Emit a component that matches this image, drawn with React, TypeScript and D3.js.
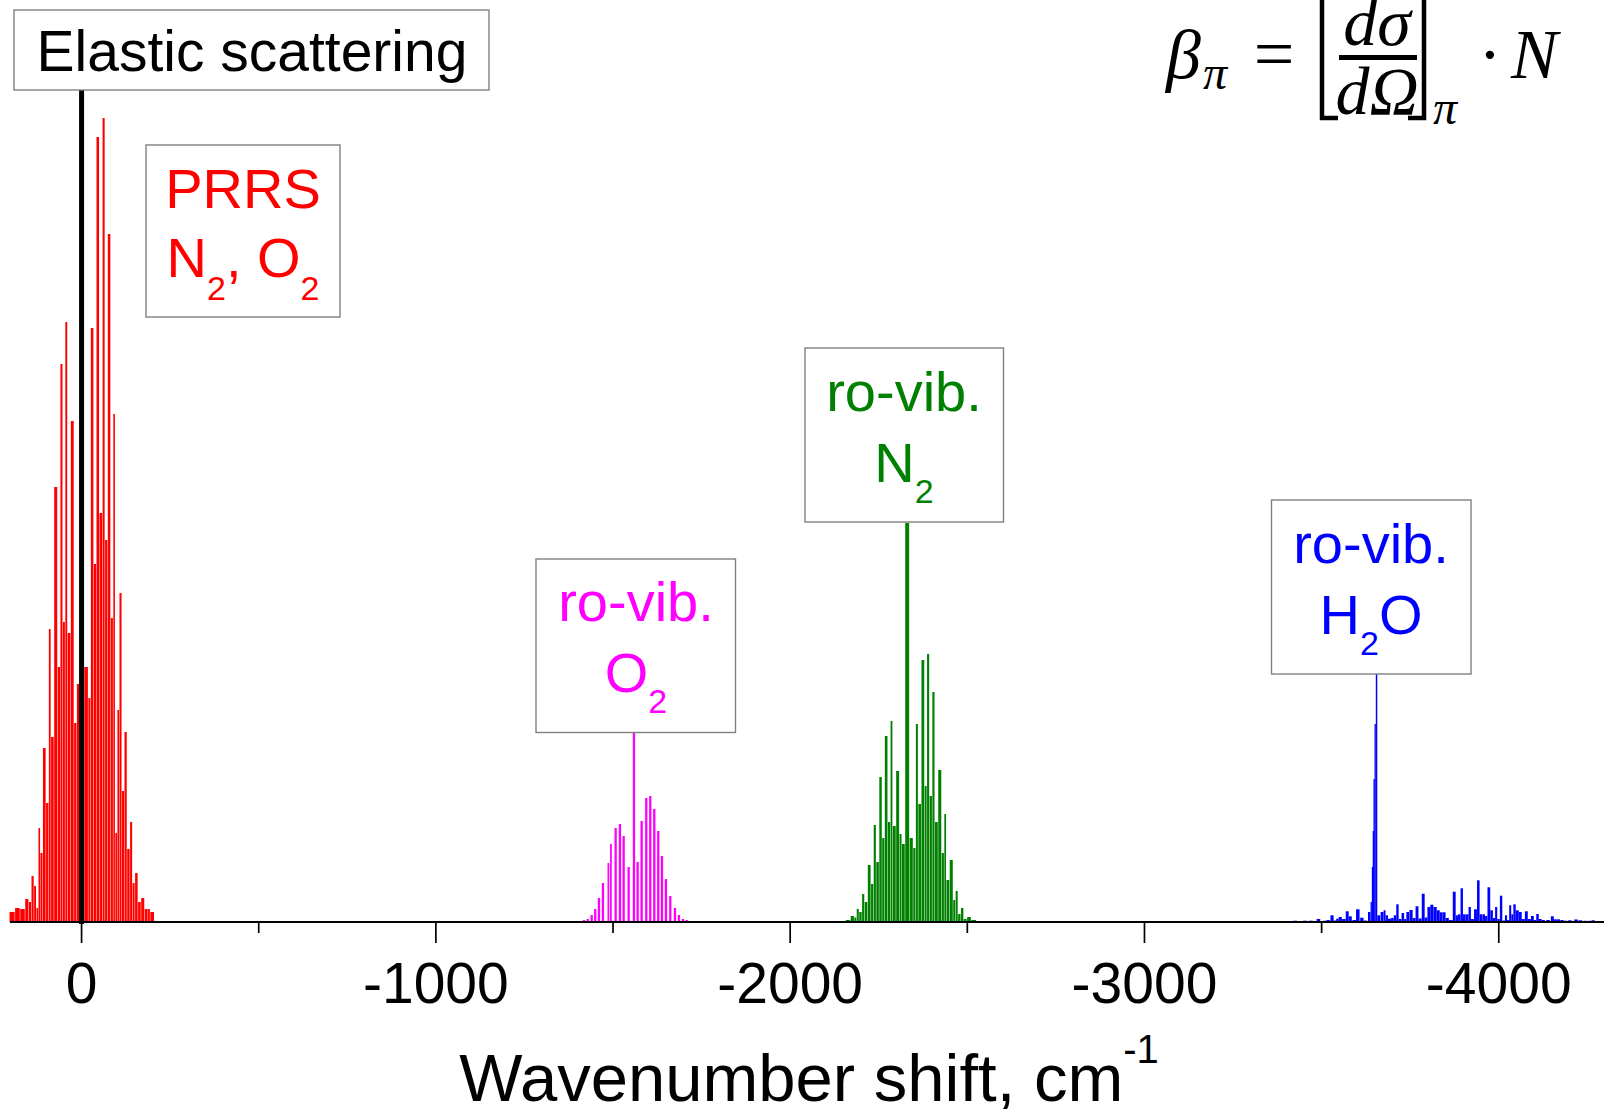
import React from 'react';
import * as d3 from 'd3';

// ---------- data (Raman shift in cm^-1, intensity in arb. units) ----------
const elasticShift = [0];
const elasticValue = [832];

const prrsShift = [195.3, 181.2, 166.3, 153.0, 145.9, 138.0, 131.0, 124.8, 119.1, 114.3, 105.0, 96.5, 89.5, 83.8, 72.0, 64.1, 56.5, 50.0, 42.9, 36.7, 25.1, 18.1, 9.6, -15.5, -21.5, -29.6, -38.4, -44.6, -55.3, -62.1, -69.4, -77.6, -86.1, -92.0, -97.7, -103.3, -109.5, -117.4, -123.6, -132.7, -140.0, -146.8, -154.1, -163.7, -171.6, -183.5, -190.5, -196.5];
const prrsValue = [10, 14, 13, 23, 20, 46, 36, 14, 94, 69, 174, 119, 293, 185, 435, 255, 558, 300, 600, 289, 501, 199, 238, 255, 224, 594, 358, 785, 409, 804, 382, 688, 304, 508, 89, 212, 329, 131, 190, 73, 100, 39, 49, 20, 24, 13, 13, 10];

const o2Shift = [-1404.7, -1417.9, -1428.4, -1439.7, -1449.8, -1460.3, -1471.6, -1487.7, -1493.3, -1507.4, -1519.6, -1530.0, -1544.1, -1559.1, -1569.5, -1580.8, -1593.8, -1605.1, -1616.4, -1627.7, -1638.1, -1649.4, -1661.6, -1674.8, -1686.1, -1697.4, -1707.9, -1718.0];
const o2Value = [1, 2, 3, 7, 13, 24, 39, 59, 78, 94, 98, 86, 55, 189, 60, 101, 124, 126, 113, 91, 66, 43, 26, 14, 7, 3, 2, 1];

const n2Shift = [-2149.1, -2163.2, -2177.3, -2183.8, -2190.6, -2197.9, -2206.9, -2212.6, -2224.4, -2230.9, -2239.4, -2245.6, -2256.3, -2262.0, -2271.0, -2279.5, -2286.0, -2292.2, -2304.9, -2311.4, -2318.5, -2329.7, -2343.3, -2350.3, -2358.0, -2364.2, -2375.7, -2382.5, -2389.0, -2396.9, -2404.5, -2411.6, -2422.9, -2431.4, -2437.6, -2443.5, -2455.9, -2463.3, -2469.5, -2477.4, -2485.6, -2493.5, -2504.2, -2516.9];
const n2Value = [1, 2, 6, 4.5, 13, 10, 28, 20, 57, 38, 97, 60, 145, 84, 186, 100, 201, 96, 151, 88, 78, 399, 84, 74, 198, 118, 262, 136, 268, 126, 230, 100, 152, 69, 108, 42, 62, 22, 31, 8, 14, 3, 5, 2];

const h2oShift = [-3157, -3298, -3318, -3349, -3374, -3391, -3408, -3425, -3453, -3470, -3491, -3510, -3518, -3530, -3538, -3544, -3552, -3563, -3573, -3580, -3592, -3602, -3614, -3623, -3636, -3640, -3644, -3646, -3648, -3651, -3654.5, -3660, -3671.5, -3678, -3683, -3692, -3700, -3707, -3714, -3721, -3730, -3736, -3742, -3753, -3761, -3769, -3778, -3787, -3795, -3802, -3811, -3820, -3830, -3837, -3846, -3854, -3865, -3875, -3882, -3888, -3896, -3902, -3911, -3918, -3925, -3935, -3942, -3950, -3958.5, -3964, -3972, -3980, -3987, -3992, -3999.5, -4006.5, -4013.6, -4021, -4026, -4032.5, -4038, -4044, -4052, -4061, -4069, -4078, -4086, -4095.5, -4102.5, -4109, -4117, -4125, -4139, -4152, -4159, -4167.5, -4179, -4187, -4201, -4218, -4230, -4244, -4258, -4266, -4277.5, -4289];
const h2oValue = [1, 0.7, 0.7, 0.7, 1, 1, 1, 1.3, 1.3, 1.3, 3, 1.3, 2, 6.7, 1.5, 3.3, 5, 3, 10.7, 5.7, 2, 12.7, 4.3, 1.5, 10, 20, 55, 91, 143, 198, 248, 6.7, 10, 11.7, 6.7, 3.3, 4, 6.7, 17.7, 3, 9, 3, 10, 12, 4, 15.7, 3.5, 28.3, 4.5, 15, 17.3, 15, 11.7, 9.7, 9.7, 4, 2, 30.3, 6.7, 7.7, 33.7, 7.7, 7.7, 15, 3, 12.7, 41.7, 7.7, 7.7, 6, 34.7, 11.7, 4, 15, 3, 26.3, 1.5, 6.7, 2, 16.7, 7.7, 17.7, 11.7, 10, 3, 10.7, 3, 6, 2, 8, 3, 2, 2, 5.7, 2.7, 2.7, 2, 1.3, 1.7, 2.5, 1.7, 1.2, 1.2, 1.7, 1, 1];

const majorTicks = [0, -1000, -2000, -3000, -4000];
const tickLabels = ['0', '-1000', '-2000', '-3000', '-4000'];
const minorTicks = [-500, -1500, -2500, -3500];

// ---------- layout ----------
const W = 1604;
const H = 1109;
const x = d3.scaleLinear().domain([202, -4297]).range([10, 1604]);
const y = d3.scaleLinear().domain([0, 800]).range([922, 122]);
const SANS = '"Liberation Sans", Arial, Helvetica, sans-serif';
const SERIF = '"Liberation Serif", "Times New Roman", serif';

type Rect = { x: number; w: number; y: number; h: number };

function barRects(shifts: number[], values: number[], gap: number, cap: number, minW: number): Rect[] {
  const pts = shifts.map((s, i) => ({ px: x(s), v: values[i] })).sort((a, b) => a.px - b.px);
  return pts.map((p, i) => {
    const prev = i > 0 ? (pts[i - 1].px + p.px) / 2 + gap / 2 : -Infinity;
    const next = i < pts.length - 1 ? (p.px + pts[i + 1].px) / 2 - gap / 2 : Infinity;
    let l = Math.max(p.px - cap, prev);
    let r = Math.min(p.px + cap, next);
    if (r - l < minW) {
      const c = (l + r) / 2;
      l = c - minW / 2;
      r = c + minW / 2;
    }
    return { x: l, w: r - l, y: y(p.v), h: y(0) - y(p.v) };
  });
}

function Bars({ shifts, values, color, gap, cap, minW }: any) {
  const rects = barRects(shifts, values, gap, cap, minW);
  return (
    <g fill={color}>
      {rects.map((r, i) => (
        <rect key={i} x={r.x} y={r.y} width={r.w} height={r.h} />
      ))}
    </g>
  );
}

function Box({ x0, y0, x1, y1 }: any) {
  return <rect x={x0} y={y0} width={x1 - x0} height={y1 - y0} fill="#fff" stroke="#808080" strokeWidth={1.4} />;
}

export default function App() {
  const base = y(0);
  return (
    <svg width={W} height={H} style={{ position: 'absolute', left: 0, top: 0, display: 'block', background: '#fff' }}>
      <rect x={0} y={0} width={W} height={H} fill="#fff" />

      {/* spectra */}
      <Bars shifts={prrsShift} values={prrsValue} color="#ff0000" gap={0.45} cap={2.8} minW={1.6} />
      <Bars shifts={o2Shift} values={o2Value} color="#ff00ff" gap={0.8} cap={1.15} minW={1.4} />
      <Bars shifts={n2Shift} values={n2Value} color="#008000" gap={0.45} cap={2.7} minW={1.6} />
      <Bars shifts={h2oShift} values={h2oValue} color="#0000ff" gap={0.1} cap={1.8} minW={1.3} />

      {/* elastic line */}
      {elasticShift.map((s, i) => (
        <line key={i} x1={x(s)} x2={x(s)} y1={y(elasticValue[i])} y2={base + 2} stroke="#000" strokeWidth={5} />
      ))}

      {/* x axis */}
      <line x1={10} x2={1604} y1={base} y2={base} stroke="#000" strokeWidth={2} />
      {majorTicks.map((t, i) => (
        <g key={t}>
          <line x1={x(t)} x2={x(t)} y1={base} y2={base + 21} stroke="#000" strokeWidth={1.7} />
          <text x={x(t)} y={1003} textAnchor="middle" fontFamily={SANS} fontSize={57} fill="#000">
            {tickLabels[i]}
          </text>
        </g>
      ))}
      {minorTicks.map((t) => (
        <line key={t} x1={x(t)} x2={x(t)} y1={base} y2={base + 11} stroke="#000" strokeWidth={1.7} />
      ))}
      <text x={809} y={1101} textAnchor="middle" fontFamily={SANS} fontSize={67} fill="#000">
        Wavenumber shift, cm
        <tspan dy={-38} fontSize={40}>-1</tspan>
      </text>

      {/* annotation boxes */}
      <Box x0={14} y0={10} x1={489} y1={90} />
      <text x={252} y={71} textAnchor="middle" fontFamily={SANS} fontSize={57} fill="#000">
        Elastic scattering
      </text>

      <Box x0={146} y0={145} x1={340} y1={317} />
      <text x={243} y={208} textAnchor="middle" fontFamily={SANS} fontSize={56} fill="#ff0000">PRRS</text>
      <text x={243} y={277} textAnchor="middle" fontFamily={SANS} fontSize={56} fill="#ff0000">
        N<tspan dy={23} fontSize={34}>2</tspan>
        <tspan dy={-23}>, O</tspan>
        <tspan dy={23} fontSize={34}>2</tspan>
      </text>

      <Box x0={536} y0={559} x1={735.5} y1={732.5} />
      <text x={636} y={621} textAnchor="middle" fontFamily={SANS} fontSize={56} fill="#ff00ff">ro-vib.</text>
      <text x={636} y={692} textAnchor="middle" fontFamily={SANS} fontSize={56} fill="#ff00ff">
        O<tspan dy={21} fontSize={34}>2</tspan>
      </text>

      <Box x0={805} y0={348} x1={1003.5} y1={522} />
      <text x={904} y={411} textAnchor="middle" fontFamily={SANS} fontSize={56} fill="#008000">ro-vib.</text>
      <text x={904} y={482} textAnchor="middle" fontFamily={SANS} fontSize={56} fill="#008000">
        N<tspan dy={21} fontSize={34}>2</tspan>
      </text>

      <Box x0={1271.5} y0={500} x1={1471} y1={674} />
      <text x={1371} y={563} textAnchor="middle" fontFamily={SANS} fontSize={56} fill="#0000ff">ro-vib.</text>
      <text x={1371} y={634} textAnchor="middle" fontFamily={SANS} fontSize={56} fill="#0000ff">
        H<tspan dy={21} fontSize={34}>2</tspan>
        <tspan dy={-21}>O</tspan>
      </text>

      {/* formula */}
      <g fontFamily={SERIF} fill="#000">
        <text x={1166} y={78} fontSize={70} fontStyle="italic">β</text>
        <text x={1203} y={89} fontSize={48} fontStyle="italic">π</text>
        <text x={1274} y={78} fontSize={72} textAnchor="middle">=</text>
        <path d="M1338,-4 L1322,-4 L1322,118 L1338,118" fill="none" stroke="#000" strokeWidth={4.5} />
        <text x={1377} y={45} fontSize={68} fontStyle="italic" textAnchor="middle">dσ</text>
        <rect x={1339} y={55} width={78} height={5} />
        <text x={1377} y={114} fontSize={68} fontStyle="italic" textAnchor="middle">dΩ</text>
        <path d="M1408,-4 L1424,-4 L1424,118 L1408,118" fill="none" stroke="#000" strokeWidth={4.5} />
        <text x={1433} y={124} fontSize={48} fontStyle="italic">π</text>
        <text x={1490} y={78} fontSize={70} textAnchor="middle">·</text>
        <text x={1511} y={78} fontSize={70} fontStyle="italic">N</text>
      </g>
    </svg>
  );
}
